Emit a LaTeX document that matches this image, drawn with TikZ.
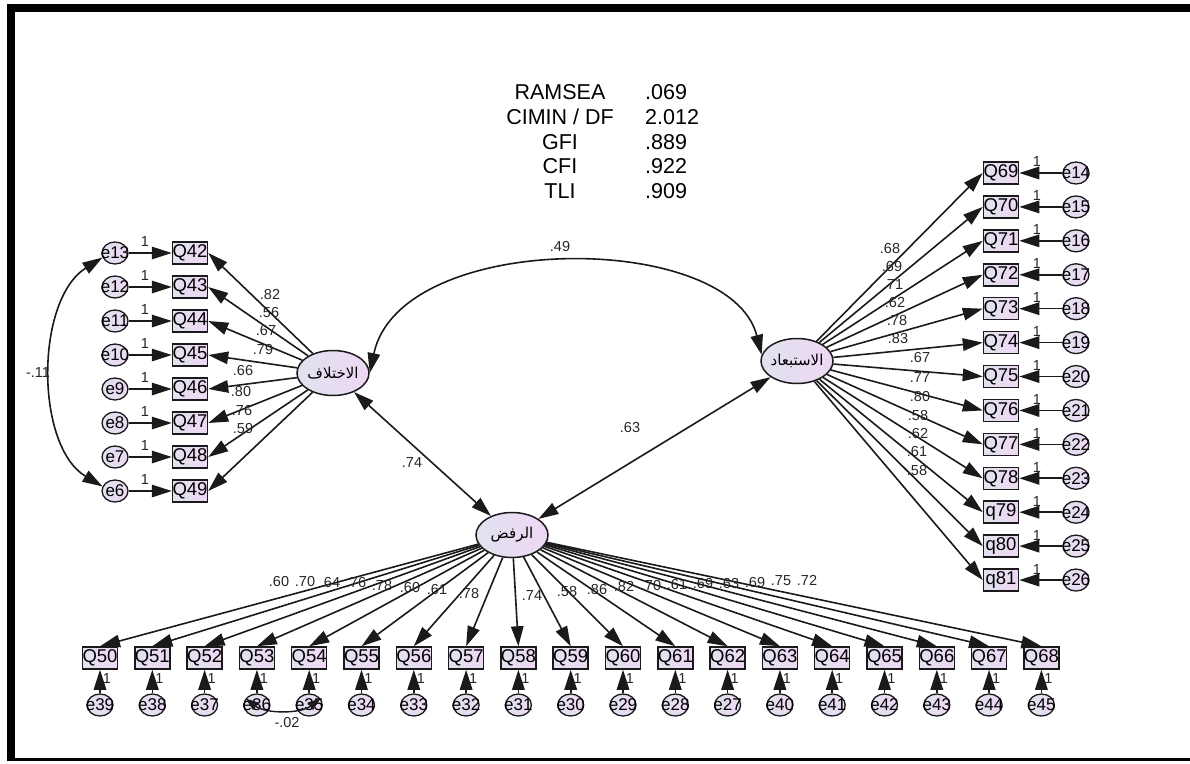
\documentclass[tikz,border=0pt]{standalone}
\usepackage{fontspec}
\setmainfont{Liberation Sans}
\newfontfamily\arabicfont[Script=Arabic]{DejaVu Sans}
\TeXXeTstate=1
\usetikzlibrary{shapes.geometric,arrows.meta}

\definecolor{edge}{HTML}{1A1A1A}
\definecolor{fillL}{RGB}{225,226,238}
\definecolor{fillR}{RGB}{238,215,244}

\tikzset{
  obs/.style={rectangle, draw=edge, line width=1.5pt, left color=fillL, right color=fillR,
    minimum width=35pt, minimum height=22pt, inner sep=0pt, font=\fontsize{18.5}{18.5}\selectfont},
  err/.style={ellipse, draw=edge, line width=1.3pt, left color=fillL, right color=fillR,
    minimum width=26pt, minimum height=22pt, inner sep=0pt},
  errtext/.style={font=\fontsize{17}{17}\selectfont, inner sep=0pt},
  lat/.style={ellipse, draw=edge, line width=1.5pt, left color=fillL, right color=fillR,
    minimum width=72pt, minimum height=45pt, inner sep=0pt},
  lattext/.style={font=\arabicfont\fontsize{15}{15}\selectfont, inner sep=0pt},
  tip/.tip={Triangle[length=20pt,width=12.5pt]},
  smalltip/.tip={Triangle[length=13pt,width=9pt]},
  link/.style={draw=edge, line width=1.6pt, -tip},
  dlink/.style={draw=edge, line width=1.6pt, tip-tip},
  slink/.style={draw=edge, line width=1.4pt, smalltip-smalltip},
  coef/.style={font=\fontsize{14.5}{14.5}\selectfont, text=black!85, inner sep=0pt},
  fit/.style={font=\fontsize{21.5}{21.5}\selectfont, inner sep=0pt},
}

\begin{document}
\begin{tikzpicture}[x=1pt, y=-1pt]
\useasboundingbox (0,0) rectangle (1190,763);

% frame
\fill[black] (7,4) rectangle (1190,12);
\fill[black] (7,4) rectangle (15,761);
\fill[black] (7,758) rectangle (1190,761);

% fit indices
\foreach \n/\v [count=\i from 0] in {RAMSEA/.069, {CIMIN / DF}/2.012, GFI/.889, CFI/.922, TLI/.909} {
  \pgfmathsetmacro\yy{92+24.8*\i}
  \node[fit] (fitn\i) at (560,\yy) {\n};
  \node[fit, anchor=west] (fitv\i) at (645,\yy) {\v};
}

% latent variables
\node[lat, label={[lattext]center:\beginR الاختلاف\endR}] (lA) at (333,373) {};
\node[lat, label={[lattext]center:\beginR الاستبعاد\endR}] (lS) at (797,361) {};
\node[lat, label={[lattext]center:\beginR الرفض\endR}] (lR) at (512,535) {};

% left block
\foreach \t/\e [count=\i from 0] in {Q42/e13, Q43/e12, Q44/e11, Q45/e10, Q46/e9, Q47/e8, Q48/e7, Q49/e6} {
  \pgfmathsetmacro\yy{253+34*\i}
  \node[obs] (\t) at (190,\yy) {\t};
  \node[err, label={[errtext]center:\e}] (\e) at (115,\yy) {};
  \draw[link] (\e) -- (\t);
  \node[coef] at (145,\yy-11) {1};
  \draw[link] (lA) -- (\t.east);
}
\foreach \c/\x/\y in {.82/270/295, .56/269/313, .67/266/331, .79/263/350, .66/243/371, .80/241/392, .76/242/411, .59/243/429}
  \node[coef] at (\x,\y) {\c};

% right block
\foreach \t/\e [count=\i from 0] in {Q69/e14, Q70/e15, Q71/e16, Q72/e17, Q73/e18, Q74/e19, Q75/e20, Q76/e21, Q77/e22, Q78/e23, q79/e24, q80/e25, q81/e26} {
  \pgfmathsetmacro\yy{173+33.92*\i}
  \node[obs] (\t) at (1001,\yy) {\t};
  \node[err, label={[errtext]center:\e}] (\e) at (1076,\yy) {};
  \draw[link] (\e) -- (\t);
  \node[coef] at (1037,\yy-11) {1};
  \draw[link] (lS) -- (\t.west);
}
\foreach \c/\x/\y in {.68/890/249, .69/892/267, .71/893/285, .62/895/303, .78/897/321, .83/898/339, .67/920/358, .77/920/378, .80/920/397, .58/918/416, .62/918/434, .61/917/452, .58/917/470}
  \node[coef] at (\x,\y) {\c};

% bottom block
\foreach \t/\e [count=\i from 0] in {Q50/e39, Q51/e38, Q52/e37, Q53/e36, Q54/e35, Q55/e34, Q56/e33, Q57/e32, Q58/e31, Q59/e30, Q60/e29, Q61/e28, Q62/e27, Q63/e40, Q64/e41, Q65/e42, Q66/e43, Q67/e44, Q68/e45} {
  \pgfmathsetmacro\xx{100+52.3*\i}
  \node[obs] (\t) at (\xx,658) {\t};
  \node[err, label={[errtext]center:\e}] (\e) at (\xx,705) {};
  \draw[link] (\e) -- (\t);
  \node[coef] at (\xx+7,678) {1};
  \draw[link] (lR) -- (\t.north);
}
\foreach \c/\x/\y in {.60/279/581, .70/305/581, .64/330/582, .76/356/582, .78/382/585, .60/410/587, .61/437/589, .78/469/593, .74/532/596, .58/567/591, .86/597/589, .82/624/586, .70/651/585, .61/677/584, .69/703/583, .63/729/583, .69/755/582, .75/781/581, .72/807/580}
  \node[coef] at (\x,\y) {\c};

% correlations between latent variables
\draw[dlink] (lA.east) .. controls (400,230) and (730,230) .. (lS.170);
\node[coef] at (560,247) {.49};
\draw[dlink] (lA) -- (lR);
\node[coef] at (412,463) {.74};
\draw[dlink] (lR) -- (lS);
\node[coef] at (630,428) {.63};

% correlated errors
\draw[dlink] (e13.200) .. controls (35,300) and (35,446) .. (e6.160);
\node[coef] at (38,373) {-.11};
\draw[slink] (e36.150) .. controls (e36.-45) and (e35.225) .. (e35.30);
\node[coef] at (287,722) {-.02};
\end{tikzpicture}
\end{document}
